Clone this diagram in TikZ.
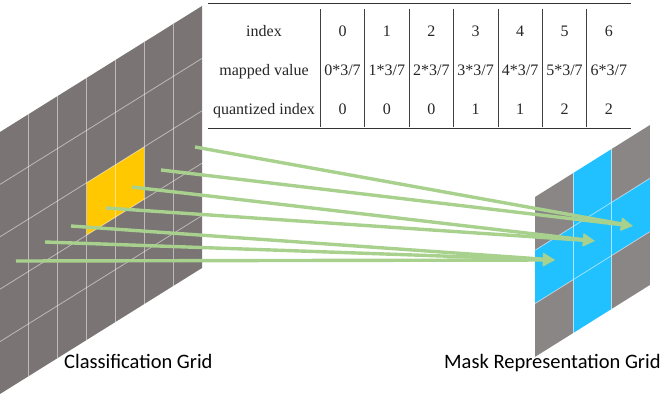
\documentclass[tikz,border=0pt]{standalone}
\usepackage{fontspec}
\setmainfont{Liberation Serif}
\newfontfamily\gridfont{Carlito}
\usetikzlibrary{arrows.meta}

\definecolor{cellgray}{RGB}{122,116,116}
\definecolor{maskgray}{RGB}{139,134,134}
\definecolor{maskblue}{RGB}{33,192,255}
\definecolor{cellyellow}{RGB}{255,200,0}
\definecolor{mapgreen}{RGB}{169,209,142}

\begin{document}
\begin{tikzpicture}[x=1pt, y=-1pt]
  \useasboundingbox (0,0) rectangle (664,398);
  \tikzset{
    gridline/.style={white, opacity=0.5, line width=0.8pt},
    tabtext/.style={inner sep=0pt, anchor=base, text=black!85, font=\fontsize{16}{19}\selectfont},
    maparrow/.style={mapgreen, line width=3.4pt, -{Triangle[length=12pt, width=12pt]}}
  }

  % Classification grid: 7 x 5 cells
  \begin{scope}[shift={(0,132)}, x={(28.857pt,18pt)}, y={(0pt,-52.4pt)}]
    \fill[cellgray] (0,0) -- (7,0) -- (7,5) -- (0,5) -- cycle;
    \fill[cellyellow] (3,2) -- (5,2) -- (5,3) -- (3,3) -- cycle;
    \foreach \i in {1,...,6} { \draw[gridline] (\i,0) -- (\i,5); }
    \foreach \j in {1,...,4} { \draw[gridline] (0,\j) -- (7,\j); }
  \end{scope}

  % Mask representation grid: 3 x 3 cells
  \begin{scope}[shift={(535,197)}, x={(38.33pt,24pt)}, y={(0pt,-53.3pt)}]
    \foreach \i/\j/\c in {0/0/maskgray,1/0/maskblue,2/0/maskgray,
                          0/1/maskblue,1/1/maskblue,2/1/maskblue,
                          0/2/maskgray,1/2/maskblue,2/2/maskgray} {
      \fill[\c] (\i,\j) -- ++(1,0) -- ++(0,1) -- ++(-1,0) -- cycle;
    }
    \foreach \i in {1,2} { \draw[gridline] (\i,0) -- (\i,3); }
    \foreach \j in {1,2} { \draw[gridline] (0,\j) -- (3,\j); }
  \end{scope}

  % Mapping arrows
  \foreach \t/\x/\y in {0/555/260, 1/595/241, 2/633/226} { \coordinate (dst\t) at (\x,\y); }
  \foreach \i/\x/\y in {0/16/261, 1/45/242, 2/71/226, 3/106/208, 4/132/187, 5/161/170, 6/195/147} {
    \coordinate (src\i) at (\x,\y);
  }
  \foreach \i/\t in {0/0,1/0,2/0,3/1,4/1,5/2,6/2} { \draw[maparrow] (src\i) -- (dst\t); }

  % Table
  \draw[black!80, line width=1.2pt] (208,3.5) -- (631,3.5);
  \draw[black!80, line width=1.2pt] (208,128.5) -- (631,128.5);
  \node[tabtext] (rowidx) at (264,37) {index};
  \node[tabtext] (rowmap) at (264,76) {mapped value};
  \node[tabtext] (rowqnt) at (264,115) {quantized index};
  \foreach \k/\q in {0/0,1/0,2/0,3/1,4/1,5/2,6/2} {
    \draw[black!75, line width=0.8pt] ({320.3+44.4*\k},9.5) -- ({320.3+44.4*\k},127.5);
    \node[tabtext] (idx\k) at ({342.5+44.4*\k},37) {\k};
    \node[tabtext] (map\k) at ({342.5+44.4*\k},76) {\k*3/7};
    \node[tabtext] (qnt\k) at ({342.5+44.4*\k},115) {\q};
  }

  % Labels
  \node[inner sep=0pt, anchor=base west, font=\gridfont\fontsize{20.5}{24}\selectfont] (cls) at (64,368) {Classification Grid};
  \node[inner sep=0pt, anchor=base west, font=\gridfont\fontsize{20.5}{24}\selectfont] (msk) at (444,368) {Mask Representation Grid};
\end{tikzpicture}
\end{document}
